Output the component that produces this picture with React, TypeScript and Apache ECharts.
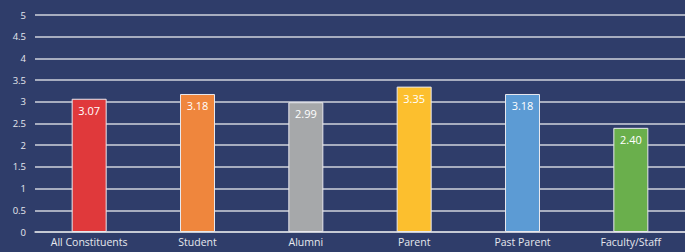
import React, { useEffect, useRef } from "react";
import * as echarts from "echarts";

const categories = ["All Constituents", "Student", "Alumni", "Parent", "Past Parent", "Faculty/Staff"];
const values = [3.07, 3.18, 2.99, 3.35, 3.18, 2.4];
const barColors = ["#e0393b", "#ef863d", "#a6a8aa", "#fcbf2e", "#5c9bd4", "#6aaf4c"];

export default function App() {
  const ref = useRef<HTMLDivElement>(null);
  useEffect(() => {
    const chart = echarts.init(ref.current!, null, { renderer: "svg" });
    chart.setOption({
      animation: false,
      backgroundColor: "#2f3d6a",
      textStyle: { fontFamily: "Open Sans" },
      grid: { left: 35, right: -10, top: 15, bottom: 20, containLabel: false },
      xAxis: {
        type: "category",
        data: categories,
        axisLine: { show: true, lineStyle: { color: "#d0d3dc", width: 1.5 } },
        axisTick: { show: false },
        axisLabel: { color: "#e6e8ee", fontSize: 10.5, margin: 4, interval: 0 },
      },
      yAxis: {
        type: "value",
        min: 0,
        max: 5,
        interval: 0.5,
        axisLine: { show: false },
        axisTick: { show: false },
        splitLine: { lineStyle: { color: "#d0d3dc", width: 1.5 } },
        axisLabel: { color: "#e6e8ee", fontSize: 9.5, margin: 9 },
      },
      series: [
        {
          type: "bar",
          barWidth: 35,
          data: values.map((v, i) => ({
            value: v,
            itemStyle: { color: barColors[i], borderColor: "#e8e8ee", borderWidth: 1 },
          })),
          label: {
            show: true,
            position: "insideTop",
            distance: 6,
            color: "#ffffff",
            fontSize: 11,
            formatter: (p: any) => p.value.toFixed(2),
          },
        },
      ],
    });
    return () => chart.dispose();
  }, []);
  return <div ref={ref} style={{ position: "fixed", left: 0, top: 0, width: 685, height: 252 }} />;
}
